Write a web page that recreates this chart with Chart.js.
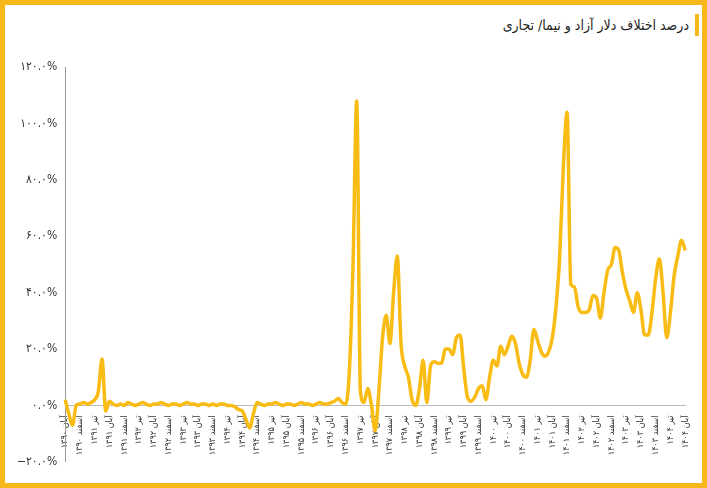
<!DOCTYPE html>
<html>
<head>
<meta charset="utf-8">
<script src="https://cdn.jsdelivr.net/npm/chart.js@4"></script>
<style>
  body { margin: 0; background: #fff; }
  #frame { position: absolute; left: 0; top: 0; width: 707px; height: 488px; box-sizing: border-box; border: 5px solid #F8B81B; }
  #title { position: absolute; right: 8px; top: 14px; font-family: "DejaVu Sans Condensed", "DejaVu Sans"; font-size: 14px; color: #222; direction: rtl; border-right: 4px solid #F8B81B; padding-right: 6px; line-height: 22px; }
  #wrap { position: absolute; left: 8px; top: 57px; width: 690px; height: 415px; }
</style>
</head>
<body>
<div id="frame"></div>
<div id="title">درصد اختلاف دلار آزاد و نیما/ تجاری</div>
<div id="wrap"><canvas id="chart"></canvas></div>
<script>
const monthNames = ["فروردین", "اردیبهشت", "خرداد", "تیر", "مرداد", "شهریور", "مهر", "آبان", "آذر", "دی", "بهمن", "اسفند"];
const shownMonths = ["تیر", "آبان", "اسفند"];

// monthly values, from Aban 1390
const gap = [
  2, -3, -7, 0, 0.5, 1, 0.5, 1, 2, 5, 16.5, -2, 1.5, 0.5, 0, 0.5, 0, 1, 0.5, 0,
  0.5, 1, 0.5, 0, 0.5, 0.5, 1, 0.5, 0, 0.5, 0.5, 0, 0.5, 1, 0.5, 0.5, 0, 0.5, 0.5, 0,
  0.5, 0, 0.5, 0.5, 0, 0, -0.5, -1.5, -2, -5, -8, -3, 1, 0.5, 0, 0.5, 0.5, 1, 0.5, 0,
  0.5, 0.5, 0, 0.5, 1, 0.5, 0.5, 0, 0.5, 1, 0.5, 0.5, 1, 1.5, 2.5, 1, 0.5, 12, 50, 108,
  5, 1, 6, 0, -9, 5, 24, 32, 22, 40, 53, 22, 14, 10, 2, 0, 6, 16, 1, 14,
  15.5, 15, 15, 20, 20, 18, 24, 25, 13, 3, 1.5, 3, 6, 7, 2, 10, 16, 14, 21, 18,
  21, 24.5, 22, 15, 11, 10, 16, 27, 23, 19, 17.5, 19, 24, 35, 53, 85, 104, 43, 42, 35,
  33, 33, 34, 39, 38, 31, 40, 48, 50, 56, 55, 47, 41, 37, 33, 40, 34, 25, 25, 33,
  45, 52, 40, 24, 33, 46, 53, 58.6, 55
];

const yTicks = [-20, 0, 20, 40, 60, 80, 100, 120];

function fa(s) {
  return String(s).replace(/[0-9]/g, d => "۰۱۲۳۴۵۶۷۸۹"[d]);
}

const labels = [];
for (let i = 0; i < gap.length; i++) {
  const m = (7 + i) % 12;
  const y = 1390 + Math.floor((7 + i) / 12);
  labels.push(monthNames[m] + " " + fa(y));
}

const font = { family: "DejaVu Sans Condensed, DejaVu Sans", size: 9 };

new Chart(document.getElementById("chart"), {
  type: "line",
  data: {
    labels: labels,
    datasets: [{
      data: gap,
      borderColor: "#F9BC15",
      borderWidth: 3.5,
      pointRadius: 0,
      tension: 0.4,
      cubicInterpolationMode: "monotone",
    }],
  },
  options: {
    responsive: true,
    maintainAspectRatio: false,
    animation: false,
    layout: { padding: { left: 6, right: 4 } },
    plugins: { legend: { display: false }, tooltip: { enabled: false } },
    scales: {
      x: {
        position: { y: 0 },
        grid: { display: false, drawTicks: true },
        border: { color: "#bbb" },
        ticks: {
          autoSkip: false,
          maxRotation: 90,
          minRotation: 90,
          font: font,
          color: "#333",
          padding: 2,
          callback: function (v, i) {
            const l = labels[i];
            return shownMonths.includes(l.split(" ")[0]) ? l : "";
          },
        },
      },
      y: {
        min: -20,
        max: 120,
        afterBuildTicks: s => { s.ticks = yTicks.map(v => ({ value: v })); },
        grid: { display: false, drawTicks: true, tickLength: 5 },
        border: { color: "#999" },
        ticks: {
          font: { family: "DejaVu Sans Condensed, DejaVu Sans", size: 12 },
          color: "#333",
          callback: v => (v < 0 ? "−" : "") + fa(Math.abs(v).toFixed(1)) + "%",
        },
      },
    },
  },
});
</script>
</body>
</html>
